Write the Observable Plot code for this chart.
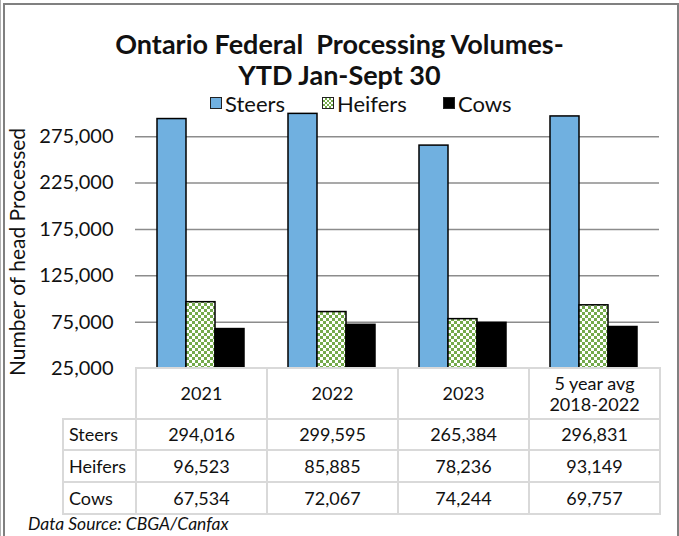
<!DOCTYPE html>
<html>
<head>
<meta charset="utf-8">
<script src="https://cdn.jsdelivr.net/npm/d3@7"></script>
<script src="https://cdn.jsdelivr.net/npm/@observablehq/plot@0.6"></script>
<style>
  html, body { margin: 0; padding: 0; background: #fff; }
  #wrap { position: relative; width: 679px; height: 536px; overflow: hidden; background: #fff; font-family: Lato, "Open Sans", sans-serif; color: #111; }
  #frame { position: absolute; left: 3px; top: 3px; width: 672px; height: 560px; border-top: 2px solid #808080; border-left: 2px solid #808080; border-right: 2px solid #808080; }
  #frame0 { position: absolute; left: 0; top: 0; width: 1px; height: 536px; background: #b0b0b0; }
  #title { position: absolute; left: 0; top: 28px; width: 679px; text-align: center; font-weight: bold; font-size: 27px; line-height: 31px; color: #111; white-space: pre; }
  .leg { position: absolute; top: 91px; height: 24px; display: flex; align-items: center; font-size: 22px; white-space: nowrap; }
  .sw { width: 12px; height: 12px; border: 1px solid #222; margin-right: 3px; box-sizing: border-box; }
  #ylab { position: absolute; left: 16px; top: 252px; transform: translate(-50%, -50%) rotate(-90deg); font-size: 21px; white-space: nowrap; }
  #chart { position: absolute; left: 0; top: 105px; }
  table { position: absolute; left: 62px; top: 367px; border-collapse: collapse; table-layout: fixed; font-size: 18px; }
  td { border: 2px solid #d9d9d9; text-align: center; padding: 0; line-height: 21px; }
  td.lab { text-align: left; padding-left: 5px; }
  td.blank { border-top: none; border-left: none; }
  #src { position: absolute; left: 28px; top: 513px; font-style: italic; font-size: 17.5px; }
</style>
</head>
<body>
<div id="wrap">
  <div id="frame0"></div>
  <div id="frame"></div>
  <div id="title"></div>
  <div id="legend"></div>
  <div id="ylab"></div>
  <div id="chart"></div>
  <table id="tbl"></table>
  <div id="src"></div>
</div>
<script>
// ---- data ----
const titleLines = ["Ontario Federal  Processing Volumes-", "YTD Jan-Sept 30"];
const years = ["2021", "2022", "2023", "5 year avg\n2018-2022"];
const series = ["Steers", "Heifers", "Cows"];
const steers = [294016, 299595, 265384, 296831];
const heifers = [96523, 85885, 78236, 93149];
const cows = [67534, 72067, 74244, 69757];
const yTicks = [25000, 75000, 125000, 175000, 225000, 275000];
const yDomain = [25000, 300000];
const yLabel = "Number of head Processed";
const sourceNote = "Data Source: CBGA/Canfax";
const seriesColors = ["#70b0e0", "url(#heifersPattern)", "#000000"];
const checkerGreen = "#74aa4c";

const values = {Steers: steers, Heifers: heifers, Cows: cows};
const rows = years.flatMap((yr, i) => series.map(s => ({year: yr, series: s, value: values[s][i]})));
const fmt = d3.format(",");

// ---- title / labels ----
document.getElementById("title").textContent = titleLines.join("\n");
document.getElementById("ylab").textContent = yLabel;
document.getElementById("src").textContent = sourceNote;

// ---- legend ----
const legendLefts = [210, 322, 443];
const legend = document.getElementById("legend");
series.forEach((s, i) => {
  const item = document.createElement("div");
  item.className = "leg";
  item.style.left = legendLefts[i] + "px";
  const sw = document.createElement("div");
  sw.className = "sw";
  if (s === "Heifers") {
    sw.style.background = `repeating-conic-gradient(${checkerGreen} 0% 25%, #fff 0% 50%) 0 0 / 4px 4px`;
  } else {
    sw.style.background = seriesColors[i];
  }
  item.appendChild(sw);
  const t = document.createElement("span");
  t.textContent = s;
  item.appendChild(t);
  legend.appendChild(item);
});

// ---- chart ----
const chart = Plot.plot({
  width: 679,
  height: 263,
  marginLeft: 135,
  marginRight: 20,
  marginTop: 8,
  marginBottom: 0,
  style: {fontFamily: "Lato, 'Open Sans', sans-serif", fontSize: "20px", color: "#111", background: "transparent", overflow: "visible"},
  fx: {domain: years, padding: 0, axis: null},
  x: {domain: series, paddingInner: 0, paddingOuter: 0.735, axis: null},
  y: {domain: yDomain, axis: null},
  color: {domain: series, range: seriesColors},
  marks: [
    Plot.gridY(yTicks.slice(1), {stroke: "#8c8c8c", strokeOpacity: 1, strokeWidth: 1.5}),
    Plot.axisY(yTicks, {tickSize: 0, tickPadding: 22, tickFormat: fmt, label: null, fontSize: 20}),
    Plot.barY(rows, {fx: "year", x: "series", y1: yDomain[0], y2: "value", fill: "series", stroke: "#000", strokeWidth: 1.5, insetLeft: 0, insetRight: 0})
  ]
});

const svg = d3.select(chart);
const pat = svg.insert("defs", ":first-child")
  .append("pattern").attr("id", "heifersPattern")
  .attr("patternUnits", "userSpaceOnUse").attr("width", 6).attr("height", 6);
pat.append("rect").attr("width", 6).attr("height", 6).attr("fill", "#fff");
pat.append("rect").attr("width", 3).attr("height", 3).attr("fill", checkerGreen);
pat.append("rect").attr("x", 3).attr("y", 3).attr("width", 3).attr("height", 3).attr("fill", checkerGreen);
document.getElementById("chart").appendChild(chart);

// ---- table ----
const tbl = document.getElementById("tbl");
const colWidths = [73, 131, 131, 131, 131];
const cg = document.createElement("colgroup");
colWidths.forEach(w => { const c = document.createElement("col"); c.style.width = w + "px"; cg.appendChild(c); });
tbl.appendChild(cg);
const hr = document.createElement("tr");
hr.style.height = "51px";
const blank = document.createElement("td");
blank.className = "blank";
hr.appendChild(blank);
years.forEach(y => {
  const td = document.createElement("td");
  td.innerHTML = y.split("\n").join("<br>");
  hr.appendChild(td);
});
tbl.appendChild(hr);
const rowHeights = [31, 32, 32];
series.forEach((s, i) => {
  const tr = document.createElement("tr");
  tr.style.height = rowHeights[i] + "px";
  const lab = document.createElement("td");
  lab.className = "lab";
  lab.textContent = s;
  tr.appendChild(lab);
  values[s].forEach(v => {
    const td = document.createElement("td");
    td.textContent = fmt(v);
    tr.appendChild(td);
  });
  tbl.appendChild(tr);
});
</script>
</body>
</html>
